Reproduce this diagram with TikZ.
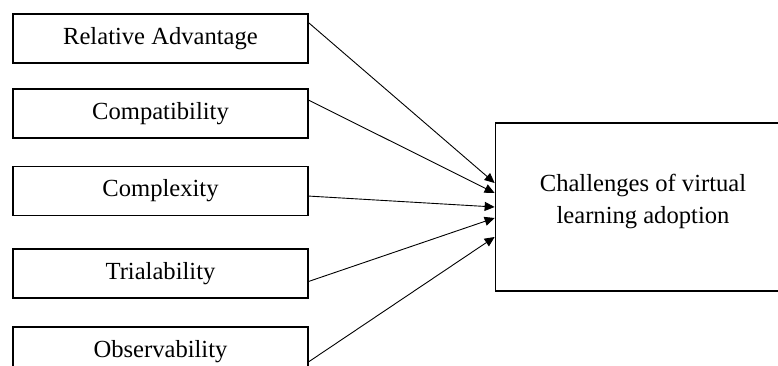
\documentclass[tikz,border=0pt]{standalone}
\usepackage{fontspec}
\setmainfont{Liberation Serif}
\usetikzlibrary{arrows.meta,positioning}
\tikzset{
  fbox/.style={rectangle, draw=black, line width=0.85pt, align=center, font=\fontsize{12.3}{16}\selectfont,
               minimum width=147.5pt, minimum height=24.5pt, inner sep=0pt},
  farr/.style={-{Triangle[length=5pt,width=4.5pt]}, line width=0.45pt},
}

\begin{document}
\begin{tikzpicture}[x=0.5pt,y=-0.5pt,node distance=13.5pt]
        \clip (0,0) rectangle (778,365);
        \node[fbox](adv) at (160.5,38.5){Relative Advantage};
        \node[fbox, below=12pt of adv](comp){Compatibility};
        \node[fbox, below=of comp](cplx){Complexity};
        \node[fbox, below=16pt of cplx](trial){Trialability};
        \node[fbox, below=of trial](obs){Observability};
        \node[fbox, minimum height=84pt](chal) at (643,207){Challenges of virtual\\learning adoption\\[-8pt]};
        \draw[farr](adv.6)--([yshift=12pt]chal.west);
        \draw[farr](comp.5.2)--([yshift=7pt]chal.west);
        \draw[farr](cplx.-2.1)--(chal.west);
        \draw[farr](trial.-3.7)--([yshift=-5.5pt]chal.west);
        \draw[farr](obs.-4.8)--([yshift=-15pt]chal.west);
    \end{tikzpicture}
\end{document}
